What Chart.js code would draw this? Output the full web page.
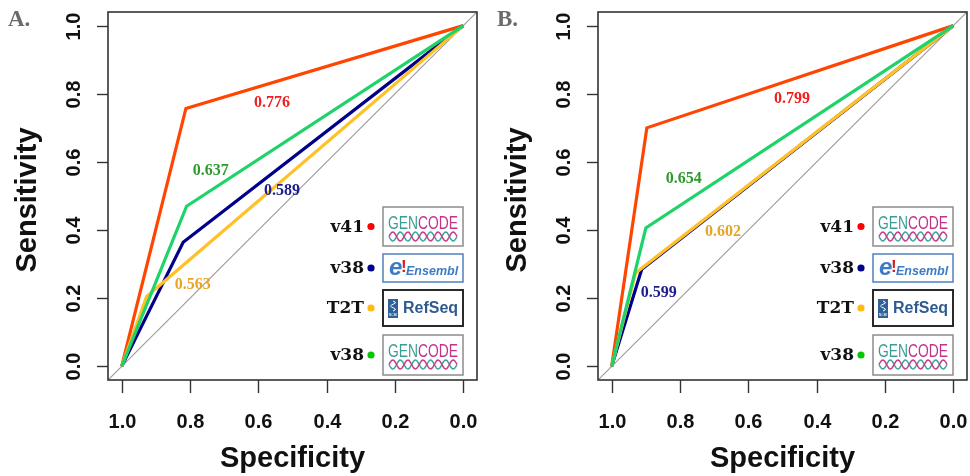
<!DOCTYPE html>
<html>
<head>
<meta charset="utf-8">
<script src="https://cdn.jsdelivr.net/npm/chart.js@4/dist/chart.umd.min.js"></script>
<style>
  body { margin: 0; background: #fff; }
  .row { display: flex; width: 970px; height: 476px; }
  canvas { display: block; }
</style>
</head>
<body>
<div class="row">
  <canvas id="rocA" width="485" height="476"></canvas>
  <canvas id="rocB" width="485" height="476"></canvas>
</div>
<script>
// ---- data ----
const specTicks = [1.0, 0.8, 0.6, 0.4, 0.2, 0.0];
const sensTicks = [0.0, 0.2, 0.4, 0.6, 0.8, 1.0];
const sources = ["v41", "v38", "T2T", "v38"];           // GENCODE, Ensembl, RefSeq, GENCODE

// single cut-off point of each ROC curve (specificity, sensitivity)
const cutSpecA = [0.812, 0.82, 0.927, 0.81];
const cutSensA = [0.757, 0.364, 0.205, 0.47];
const aucA = ["0.776", "0.589", "0.563", "0.637"];

const cutSpecB = [0.897, 0.912, 0.93, 0.90];
const cutSensB = [0.70, 0.285, 0.274, 0.406];
const aucB = ["0.799", "0.599", "0.602", "0.654"];

// where the AUC text sits, in data units
const aucSpecA = [0.56, 0.531, 0.792, 0.739];
const aucSensA = [0.774, 0.516, 0.238, 0.575];
const aucSpecB = [0.472, 0.862, 0.674, 0.789];
const aucSensB = [0.785, 0.215, 0.394, 0.55];

const lineColors = ["#ff4500", "#00008b", "#ffc125", "#1ed36a"];
const textColors = ["#f01e1e", "#1c1c8c", "#e8a524", "#2e9a2e"];
const dotColors  = ["#ff0000", "#00008b", "#ffb90f", "#00c800"];
const drawOrder  = [4, 3, 2, 1];

const SANS = '"Liberation Sans", Arial, sans-serif';

function rocPoints(spec, sens) {
  return [{ x: 1, y: 0 }, { x: spec, y: sens }, { x: 0, y: 1 }];
}

function helix(ctx, x, y, w, amp) {
  [["#3aa59b", 0], ["#c83a8c", Math.PI]].forEach(([col, ph]) => {
    ctx.beginPath();
    for (let i = 0; i <= w; i++) {
      const yy = y + amp * Math.sin(i / w * Math.PI * 2 * 4.5 + ph);
      if (i === 0) ctx.moveTo(x + i, yy); else ctx.lineTo(x + i, yy);
    }
    ctx.strokeStyle = col;
    ctx.lineWidth = 1.5;
    ctx.stroke();
  });
}

function frame(ctx, x, y, w, h, col, lw) {
  ctx.fillStyle = "#fff";
  ctx.fillRect(x, y, w, h);
  ctx.strokeStyle = col;
  ctx.lineWidth = lw;
  ctx.strokeRect(x, y, w, h);
}

function gencodeLogo(ctx, x, y, w, h) {
  frame(ctx, x, y, w, h, "#8c8c8c", 1.5);
  ctx.save();
  ctx.font = "17.5px " + SANS;
  ctx.textBaseline = "alphabetic";
  ctx.textAlign = "left";
  const g = ctx.measureText("GEN").width, c = ctx.measureText("CODE").width;
  const sc = 70 / (g + c);
  ctx.translate(x + (w - 70) / 2, y + 22);
  ctx.scale(sc, 1);
  ctx.fillStyle = "#3a9d95";
  ctx.fillText("GEN", 0, 0);
  ctx.fillStyle = "#c2338a";
  ctx.fillText("CODE", g, 0);
  ctx.restore();
  helix(ctx, x + (w - 68) / 2, y + 29.5, 68, 4.5);
}

function ensemblLogo(ctx, x, y, w, h) {
  frame(ctx, x, y, w, h, "#4f7fbf", 1.5);
  ctx.textBaseline = "alphabetic";
  ctx.textAlign = "left";
  ctx.font = "italic bold 24px " + SANS;
  ctx.fillStyle = "#3d7cc4";
  ctx.fillText("e", x + 6, y + 21);
  ctx.font = "bold 17px " + SANS;
  ctx.fillStyle = "#d62020";
  ctx.fillText("!", x + 18, y + 18);
  ctx.font = "italic bold 12.5px " + SANS;
  ctx.fillStyle = "#3d7cc4";
  ctx.fillText("Ensembl", x + 23, y + 21);
}

function refseqLogo(ctx, x, y, w, h) {
  frame(ctx, x, y, w, h, "#2a2a2a", 2);
  ctx.fillStyle = "#2f6097";
  ctx.fillRect(x + 5, y + 9, 10, 19);
  ctx.strokeStyle = "#fff";
  ctx.lineWidth = 1;
  ctx.beginPath();
  for (let i = 0; i <= 10; i++) {
    const yy = y + 11 + i;
    const xx = x + 10 + 2.5 * Math.sin(i / 10 * Math.PI * 3);
    if (i === 0) ctx.moveTo(xx, yy); else ctx.lineTo(xx, yy);
  }
  ctx.stroke();
  ctx.font = "3.5px " + SANS;
  ctx.fillStyle = "#fff";
  ctx.textAlign = "center";
  ctx.textBaseline = "alphabetic";
  ctx.fillText("NCBI", x + 10, y + 26);
  ctx.font = "bold 16px " + SANS;
  ctx.fillStyle = "#2f5a8f";
  ctx.textAlign = "left";
  ctx.fillText("RefSeq", x + 20, y + 23);
}

const logos = [gencodeLogo, ensemblLogo, refseqLogo, gencodeLogo];
const logoTop = [207, 254, 290, 335];
const logoH = [39, 28, 36, 40];

const rocDecor = {
  id: "rocDecor",
  afterDraw(chart, args, opts) {
    const ctx = chart.ctx;
    const a = chart.chartArea;
    const xs = chart.scales.x, ys = chart.scales.y;
    ctx.save();

    // box + ticks
    ctx.strokeStyle = "#333";
    ctx.lineWidth = 1.6;
    ctx.strokeRect(a.left, a.top, a.right - a.left, a.bottom - a.top);
    ctx.lineWidth = 1.4;
    ctx.fillStyle = "#111";
    ctx.font = "bold 20px " + SANS;
    specTicks.forEach(v => {
      const px = Math.round(xs.getPixelForValue(v)) + 0.5;
      ctx.beginPath(); ctx.moveTo(px, a.bottom); ctx.lineTo(px, a.bottom + 13); ctx.stroke();
      ctx.textAlign = "center"; ctx.textBaseline = "alphabetic";
      ctx.fillText(v.toFixed(1), px, 428);
    });
    sensTicks.forEach(v => {
      const py = Math.round(ys.getPixelForValue(v)) + 0.5;
      ctx.beginPath(); ctx.moveTo(a.left, py); ctx.lineTo(a.left - 11, py); ctx.stroke();
      ctx.save();
      ctx.translate(a.left - 28, py);
      ctx.rotate(-Math.PI / 2);
      ctx.textAlign = "center"; ctx.textBaseline = "alphabetic";
      ctx.fillText(v.toFixed(1), 0, 0);
      ctx.restore();
    });

    // axis titles
    ctx.font = "bold 29px " + SANS;
    ctx.textAlign = "center";
    ctx.fillText("Specificity", (a.left + a.right) / 2, 467);
    ctx.save();
    ctx.translate(a.left - 72, (a.top + a.bottom) / 2 + 4);
    ctx.rotate(-Math.PI / 2);
    ctx.fillText("Sensitivity", 0, 0);
    ctx.restore();

    // panel letter
    ctx.font = 'bold 23px "Liberation Serif", serif';
    ctx.fillStyle = "#6b6b6b";
    ctx.textAlign = "left";
    ctx.fillText(opts.letter, a.left - 100 + opts.letterDx, 26);

    // AUC values
    ctx.font = 'bold 16px "Liberation Serif", serif';
    ctx.textAlign = "center";
    ctx.textBaseline = "middle";
    opts.auc.forEach((t, i) => {
      ctx.fillStyle = textColors[i];
      ctx.fillText(t, xs.getPixelForValue(opts.aucSpec[i]), ys.getPixelForValue(opts.aucSens[i]));
    });

    // legend with logos
    const lx = a.left + 275;
    sources.forEach((s, i) => {
      const cy = logoTop[i] + logoH[i] / 2;
      ctx.font = 'bold 17px "DejaVu Serif", serif';
      ctx.fillStyle = "#111";
      ctx.textAlign = "right";
      ctx.textBaseline = "middle";
      ctx.fillText(s, lx - 19, cy + 1);
      ctx.beginPath();
      ctx.arc(lx - 12, cy, 3.6, 0, Math.PI * 2);
      ctx.fillStyle = dotColors[i];
      ctx.fill();
      logos[i](ctx, lx, logoTop[i], 80, logoH[i]);
    });
    ctx.restore();
  }
};

function makeRoc(id, spec, sens, auc, aucSpec, aucSens, letter, pad) {
  const datasets = [{
    data: [{ x: 1.04, y: -0.04 }, { x: -0.04, y: 1.04 }],
    borderColor: "#9e9e9e",
    borderWidth: 1.2,
    order: 10
  }];
  spec.forEach((s, i) => {
    datasets.push({
      label: sources[i],
      data: rocPoints(s, sens[i]),
      borderColor: lineColors[i],
      borderWidth: 3.2,
      order: drawOrder[i]
    });
  });
  new Chart(document.getElementById(id), {
    type: "scatter",
    data: { datasets },
    options: {
      responsive: false,
      animation: false,
      showLine: true,
      elements: { point: { radius: 0, hoverRadius: 0 }, line: { tension: 0, borderJoinStyle: "miter" } },
      layout: { padding: pad },
      scales: {
        x: { type: "linear", reverse: true, min: -0.04, max: 1.04, display: false },
        y: { type: "linear", min: -0.04, max: 1.04, display: false }
      },
      plugins: {
        legend: { display: false },
        tooltip: { enabled: false },
        rocDecor: { auc, aucSpec, aucSens, letter, letterDx: letter === "A." ? 0 : -1 }
      }
    },
    plugins: [rocDecor]
  });
}

makeRoc("rocA", cutSpecA, cutSensA, aucA, aucSpecA, aucSensA, "A.",
  { left: 108, right: 8, top: 12, bottom: 96 });
makeRoc("rocB", cutSpecB, cutSensB, aucB, aucSpecB, aucSensB, "B.",
  { left: 113, right: 3, top: 12, bottom: 96 });
</script>
</body>
</html>
